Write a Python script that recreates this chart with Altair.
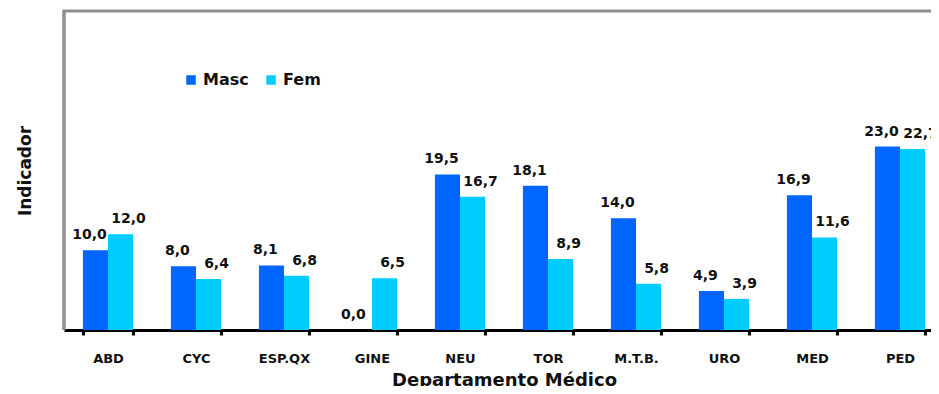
import altair as alt
import pandas as pd

departamentos = ["ABD", "CYC", "ESP.QX", "GINE", "NEU", "TOR", "M.T.B.", "URO", "MED", "PED"]
masc = [10.0, 8.0, 8.1, 0.0, 19.5, 18.1, 14.0, 4.9, 16.9, 23.0]
fem = [12.0, 6.4, 6.8, 6.5, 16.7, 8.9, 5.8, 3.9, 11.6, 22.7]
series = ["Masc", "Fem"]
colors = ["#0066FF", "#00CCFF"]

rows = []
for i, d in enumerate(departamentos):
    for s, vals in zip(series, [masc, fem]):
        v = vals[i]
        rows.append({"Departamento": d, "Sexo": s, "Valor": v,
                     "Etiqueta": f"{v:.1f}".replace(".", ",")})
df = pd.DataFrame(rows)

FONT = "DejaVu Sans"

x = alt.X("Departamento:N", sort=departamentos,
          scale=alt.Scale(paddingInner=0.43, paddingOuter=0.215, range=[0, 880]),
          axis=alt.Axis(title="Departamento Médico", labelAngle=0,
                        labelFont=FONT, labelFontWeight="bold", labelFontSize=13,
                        labelColor="#111", labelPadding=17,
                        titleFont=FONT, titleFontWeight="bold", titleFontSize=18,
                        titleColor="#111", titlePadding=6, titleX=440,
                        domainColor="#000", domainWidth=3,
                        tickColor="#000", tickWidth=3, tickSize=5, tickBand="extent"))
y = alt.Y("Valor:Q", scale=alt.Scale(domain=[0, 40], nice=False),
          axis=alt.Axis(title="Indicador", labels=False, ticks=False, domain=False,
                        grid=False, titleFont=FONT, titleFontWeight="bold",
                        titleFontSize=17, titleColor="#111", titlePadding=30))
xo = alt.XOffset("Sexo:N", sort=series, scale=alt.Scale(domain=series))

bars = alt.Chart(df).mark_bar().encode(
    x=x, y=y, xOffset=xo,
    color=alt.Color("Sexo:N", sort=series,
                    scale=alt.Scale(domain=series, range=colors),
                    legend=alt.Legend(title=None, orient="none", direction="horizontal",
                                      legendX=119, legendY=61, symbolType="square",
                                      symbolSize=90, symbolStrokeWidth=0,
                                      labelFont=FONT, labelFontWeight="bold",
                                      labelFontSize=16, labelColor="#111",
                                      columnPadding=14, labelOffset=4))
)

lab_m = alt.Chart(df[df.Sexo == "Masc"]).mark_text(
    font=FONT, fontWeight="bold", fontSize=14, color="#111", dy=-8, dx=-6, baseline="bottom"
).encode(x=x, y=y, xOffset=xo, text="Etiqueta:N")
lab_f = alt.Chart(df[df.Sexo == "Fem"]).mark_text(
    font=FONT, fontWeight="bold", fontSize=14, color="#111", dy=-8, dx=8, baseline="bottom"
).encode(x=x, y=y, xOffset=xo, text="Etiqueta:N")

frame_df = pd.DataFrame({"k": [0]})
left_line = alt.Chart(frame_df).mark_rule(color="#8f8f8f", strokeWidth=3.5).encode(
    x=alt.value(0), y=alt.value(0), y2=alt.value(319))
top_line = alt.Chart(frame_df).mark_rule(color="#8f8f8f", strokeWidth=3).encode(
    x=alt.value(-1.5), x2=alt.value(900), y=alt.value(0))

chart = (left_line + top_line + bars + lab_m + lab_f).properties(
    width=867, height=319,
    autosize=alt.AutoSizeParams(type="none"),
    padding={"left": 56, "top": 3, "right": 0, "bottom": 56},
).configure_view(stroke=None)

chart.save("out.html", embed_options={"renderer": "svg", "actions": False})
